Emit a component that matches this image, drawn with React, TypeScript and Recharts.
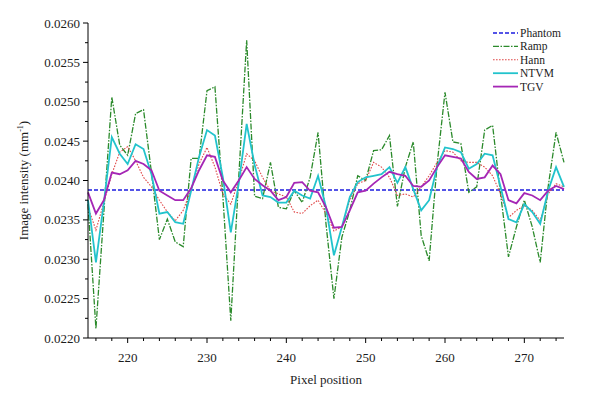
import { LineChart, Line, XAxis, YAxis, Legend } from "recharts";

const pixels = [
  215, 216, 217, 218, 219, 220, 221, 222, 223, 224, 225, 226, 227, 228, 229, 230, 231, 232, 233, 234,
  235, 236, 237, 238, 239, 240, 241, 242, 243, 244, 245, 246, 247, 248, 249, 250, 251, 252, 253, 254,
  255, 256, 257, 258, 259, 260, 261, 262, 263, 264, 265, 266, 267, 268, 269, 270, 271, 272, 273, 274, 275,
];

const phantomLevel = 0.02388;

const ramp = [
  0.0237, 0.02212, 0.0236, 0.02506, 0.02445, 0.02432, 0.02485, 0.0249, 0.0241, 0.02325,
  0.02351, 0.02322, 0.02316, 0.02428, 0.02428, 0.02514, 0.02519, 0.0238, 0.02222, 0.02404,
  0.02578, 0.0238, 0.02377, 0.02423, 0.02366, 0.02364, 0.02387, 0.02372, 0.02404, 0.02461,
  0.02345, 0.0225, 0.02328, 0.02362, 0.02406, 0.024, 0.02438, 0.02439, 0.02457, 0.02367,
  0.02417, 0.02449, 0.0233, 0.02298, 0.0242, 0.02512, 0.02449, 0.02447, 0.02385, 0.02392,
  0.02464, 0.0247, 0.02383, 0.02303, 0.02341, 0.02375, 0.02341, 0.02296, 0.02392, 0.02461, 0.02423,
];

const hann = [
  0.02366, 0.02337, 0.02372, 0.02408, 0.02436, 0.02443, 0.02425, 0.02404, 0.02392, 0.02375,
  0.0236, 0.02349, 0.02362, 0.02389, 0.02421, 0.02442, 0.02417, 0.02383, 0.0237, 0.024,
  0.02434, 0.02425, 0.02404, 0.02387, 0.02383, 0.02379, 0.0236, 0.02358, 0.02368, 0.02375,
  0.02358, 0.02336, 0.02341, 0.02375, 0.02396, 0.024, 0.02423, 0.02417, 0.02404, 0.02381,
  0.02383, 0.02379, 0.02392, 0.02406, 0.02423, 0.02438, 0.02436, 0.02425, 0.02423, 0.02423,
  0.02417, 0.02406, 0.02383, 0.02353, 0.02362, 0.02368, 0.02362, 0.02349, 0.02383, 0.02396, 0.02392,
];

const ntvm = [
  0.02375, 0.02296, 0.02372, 0.02455, 0.02434, 0.02421, 0.02446, 0.0244, 0.02408, 0.02358,
  0.0236, 0.02347, 0.02345, 0.02387, 0.0243, 0.02464, 0.02457, 0.02404, 0.02334, 0.02396,
  0.02472, 0.0242, 0.02381, 0.02379, 0.02372, 0.02372, 0.02387, 0.02381, 0.02377, 0.02406,
  0.02366, 0.02305, 0.02341, 0.02379, 0.02398, 0.02404, 0.02406, 0.02408, 0.02417, 0.02397,
  0.02417, 0.02389, 0.02362, 0.02375, 0.02417, 0.02442, 0.0244, 0.02436, 0.02415, 0.02421,
  0.02434, 0.02432, 0.02392, 0.02351, 0.02347, 0.0237, 0.0236, 0.02345, 0.02387, 0.02417, 0.02392,
];

const tgv = [
  0.02385, 0.02358, 0.02375, 0.0241, 0.02408, 0.02413, 0.02425, 0.02421, 0.02413, 0.02387,
  0.02381, 0.02375, 0.02375, 0.0239, 0.02413, 0.02432, 0.0243, 0.024, 0.02385, 0.024,
  0.02417, 0.02402, 0.02394, 0.02387, 0.02375, 0.02379, 0.02397, 0.02398, 0.02387, 0.02385,
  0.02366, 0.0234, 0.02341, 0.02362, 0.02385, 0.02387, 0.02396, 0.02404, 0.02411, 0.02408,
  0.02406, 0.02393, 0.02392, 0.024, 0.02417, 0.02432, 0.0243, 0.02428, 0.02411, 0.02402,
  0.02404, 0.02419, 0.02408, 0.02375, 0.02371, 0.02384, 0.02381, 0.02375, 0.02387, 0.02393, 0.02389,
];

const xTicks = [
  216, 218, 220, 222, 224, 226, 228, 230, 232, 234, 236, 238, 240, 242, 244,
  246, 248, 250, 252, 254, 256, 258, 260, 262, 264, 266, 268, 270, 272, 274,
];
const yTicks = [
  0.022, 0.02225, 0.0225, 0.02275, 0.023, 0.02325, 0.0235, 0.02375, 0.024,
  0.02425, 0.0245, 0.02475, 0.025, 0.02525, 0.0255, 0.02575, 0.026,
];

const series = [
  { key: "Phantom", color: "#1d1de0", width: 1.6, dash: "4 2" },
  { key: "Ramp", color: "#2b8a2b", width: 1.3, dash: "6 1.5 1.5 1.5" },
  { key: "Hann", color: "#e04848", width: 1.1, dash: "1.6 1.4" },
  { key: "NTVM", color: "#22c3cc", width: 1.8, dash: undefined },
  { key: "TGV", color: "#a526b5", width: 1.8, dash: undefined },
];

const data = pixels.map((p, i) => ({
  pixel: p,
  Phantom: phantomLevel,
  Ramp: ramp[i],
  Hann: hann[i],
  NTVM: ntvm[i],
  TGV: tgv[i],
}));

const FONT = "'Liberation Serif', 'Times New Roman', serif";
const INK = "#1c1c1c";

function XTick(props: any) {
  const { x, y, payload } = props;
  const major = payload.value % 10 === 0;
  return (
    <g>
      <line x1={x} y1={y} x2={x} y2={y + (major ? 5 : 3)} stroke="#000" strokeWidth={1} />
      {major && (
        <text x={x} y={y + 24} textAnchor="middle" fontSize={13} fontFamily={FONT} fill={INK}>
          {payload.value}
        </text>
      )}
    </g>
  );
}

function YTick(props: any) {
  const { x, y, payload } = props;
  const v = payload.value as number;
  const major = Math.abs(v * 2000 - Math.round(v * 2000)) < 1e-6;
  return (
    <g>
      <line x1={x - (major ? 5 : 3)} y1={y} x2={x} y2={y} stroke="#000" strokeWidth={1} />
      {major && (
        <text x={x - 8} y={y + 4.5} textAnchor="end" fontSize={13} fontFamily={FONT} fill={INK}>
          {v.toFixed(4)}
        </text>
      )}
    </g>
  );
}

function YTitle(props: any) {
  const vb = props.viewBox || { x: 0, y: 23, width: 88, height: 315 };
  const cx = vb.x + 28;
  const cy = vb.y + vb.height / 2;
  return (
    <text x={cx} y={cy} transform={`rotate(-90, ${cx}, ${cy})`} textAnchor="middle" fontSize={13} fontFamily={FONT} fill={INK}>
      Image intensity (mm
      <tspan dy={-5} fontSize={8}>-1</tspan>
      <tspan dy={5}>)</tspan>
    </text>
  );
}

function XTitle(props: any) {
  const vb = props.viewBox || { x: 88, y: 338, width: 476, height: 55 };
  return (
    <text x={vb.x + vb.width / 2} y={vb.y + 46} textAnchor="middle" fontSize={13} fontFamily={FONT} fill={INK}>
      Pixel position
    </text>
  );
}

// rows a touch looser than the original so the labels don't collide
function LegendBox() {
  const row = 13.4;
  return (
    <svg width={100} height={70}>
      {series.map((s, i) => (
        <g key={s.key}>
          <line x1={3} x2={28} y1={7 + i * row} y2={7 + i * row} stroke={s.color} strokeWidth={s.width} strokeDasharray={s.dash} />
          <text x={30} y={11 + i * row} fontSize={11.5} fontFamily={FONT} fill={INK}>
            {s.key}
          </text>
        </g>
      ))}
    </svg>
  );
}

export default function App() {
  return (
    <div style={{ position: "absolute", left: 0, top: 0, width: 593, height: 393, background: "#fff" }}>
      <LineChart width={593} height={393} data={data} margin={{ top: 23, right: 29, left: 0, bottom: 0 }}>
        <XAxis
          dataKey="pixel"
          type="number"
          domain={[215, 275]}
          ticks={xTicks}
          interval={0}
          height={55}
          tickSize={0}
          tickMargin={0}
          tickLine={false}
          axisLine={{ stroke: "#000", strokeWidth: 1 }}
          tick={<XTick />}
          label={<XTitle />}
        />
        <YAxis
          type="number"
          domain={[0.022, 0.026]}
          ticks={yTicks}
          interval={0}
          width={88}
          tickSize={0}
          tickMargin={0}
          tickLine={false}
          axisLine={{ stroke: "#000", strokeWidth: 1 }}
          tick={<YTick />}
          label={<YTitle />}
        />
        <Legend
          layout="vertical"
          align="center"
          verticalAlign="middle"
          content={<LegendBox />}
          wrapperStyle={{ left: 490, top: 26, width: 100, height: 70 }}
        />
        {series.map((s) => (
          <Line
            key={s.key}
            dataKey={s.key}
            type="linear"
            stroke={s.color}
            strokeWidth={s.width}
            strokeDasharray={s.dash}
            dot={false}
            activeDot={false}
            isAnimationActive={false}
          />
        ))}
      </LineChart>
    </div>
  );
}
